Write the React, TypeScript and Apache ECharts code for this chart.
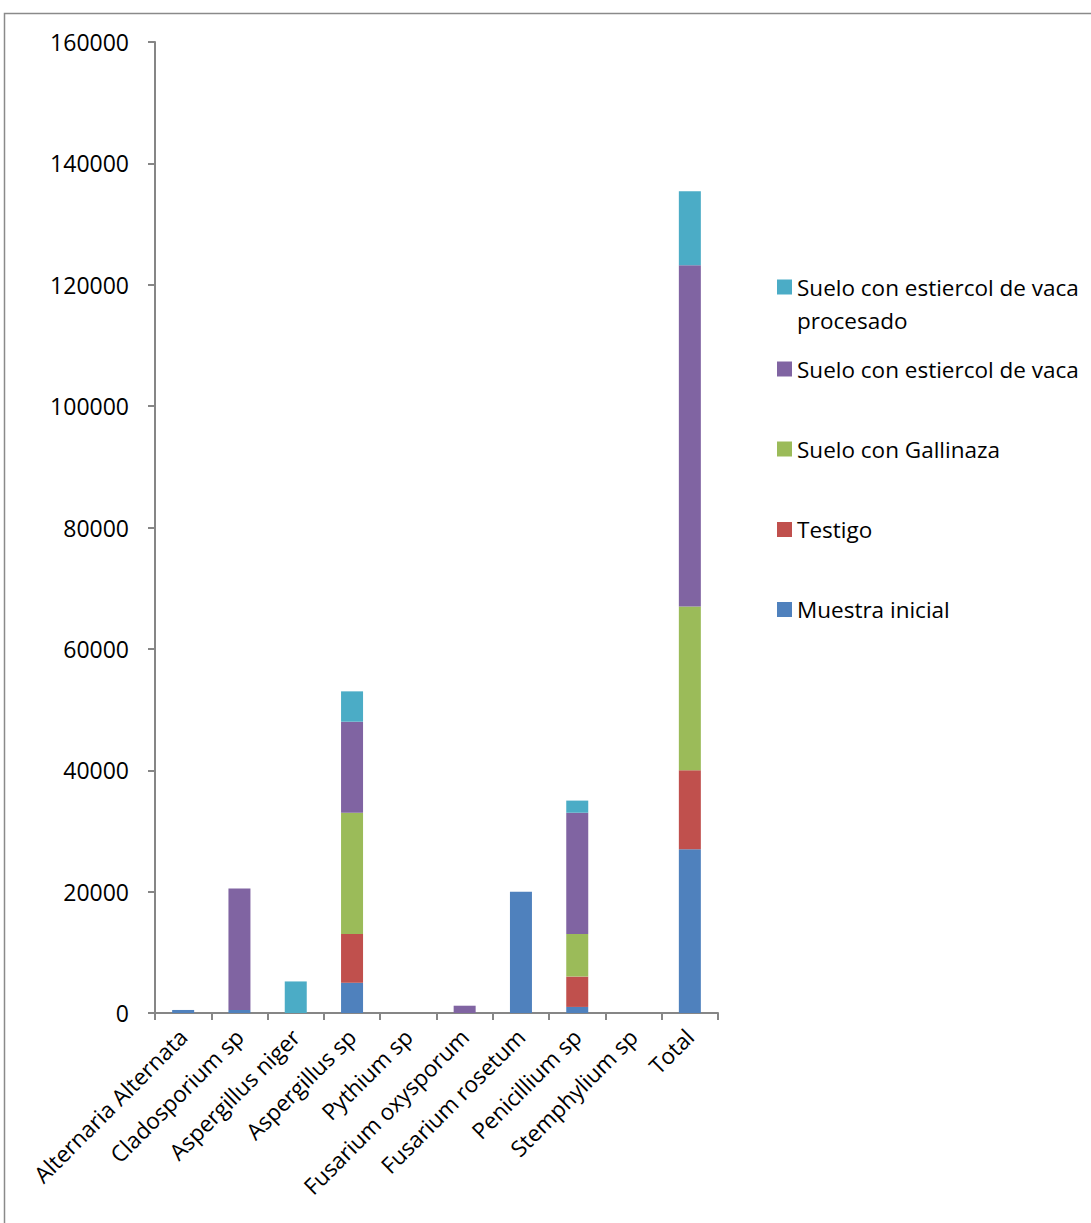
import React, { useEffect, useRef } from "react";
import * as echarts from "echarts";

// Categories along the x axis
const categories = [
  "Alternaria Alternata",
  "Cladosporium sp",
  "Aspergillus niger",
  "Aspergillus sp",
  "Pythium sp",
  "Fusarium oxysporum",
  "Fusarium rosetum",
  "Penicillium sp",
  "Stemphylium sp",
  "Total",
];

// Stacked series values (bottom to top)
const muestraInicial = [500, 500, 0, 5000, 0, 0, 20000, 1000, 0, 27000];
const testigo = [0, 0, 0, 8000, 0, 0, 0, 5000, 0, 13000];
const gallinaza = [0, 0, 0, 20000, 0, 0, 0, 7000, 0, 27000];
const estiercolVaca = [0, 20000, 0, 15000, 0, 1200, 0, 20000, 0, 56200];
const estiercolProcesado = [0, 0, 5200, 5000, 0, 0, 0, 2000, 0, 12200];

// Y axis range
const yMin = 0;
const yMax = 160000;
const yStep = 20000;

const FONT = "'Open Sans', 'Noto Sans', sans-serif";

const seriesDefs = [
  { name: "Muestra inicial", data: muestraInicial, color: "#4F81BD" },
  { name: "Testigo", data: testigo, color: "#C0504D" },
  { name: "Suelo con Gallinaza", data: gallinaza, color: "#9BBB59" },
  { name: "Suelo con estiercol de vaca", data: estiercolVaca, color: "#8064A2" },
  { name: "Suelo con estiercol de vaca procesado", data: estiercolProcesado, color: "#4BACC6" },
];

// Legend rows, top to bottom, with the vertical centre of each icon
const legendRows = [
  { name: "Suelo con estiercol de vaca procesado", center: 287, twoLines: true },
  { name: "Suelo con estiercol de vaca", center: 369, twoLines: false },
  { name: "Suelo con Gallinaza", center: 449, twoLines: false },
  { name: "Testigo", center: 529.5, twoLines: false },
  { name: "Muestra inicial", center: 609.5, twoLines: false },
];

export default function App() {
  const ref = useRef<HTMLDivElement>(null);

  useEffect(() => {
    document.body.style.margin = "0";
    if (!ref.current) return;
    const chart = echarts.init(ref.current, undefined, { renderer: "svg" });

    const lineH = 33;
    const singleH = 30;
    const legendFont = 22.5;

    const legends = legendRows.map((row) => {
      const base: any = {
        show: true,
        selectedMode: false,
        orient: "vertical",
        left: 777,
        padding: 0,
        itemWidth: 15,
        itemHeight: 15,
        icon: "rect",
        data: [row.name],
      };
      if (row.twoLines) {
        // an empty first line keeps the icon level with the first text line
        return {
          ...base,
          top: row.center - (lineH * 3) / 2,
          formatter: () => "\nSuelo con estiercol de vaca\nprocesado",
          textStyle: {
            fontFamily: FONT,
            fontSize: legendFont,
            color: "#000",
            lineHeight: lineH,
          },
        };
      }
      return {
        ...base,
        top: row.center - singleH / 2,
        textStyle: {
          fontFamily: FONT,
          fontSize: legendFont,
          color: "#000",
          lineHeight: singleH,
        },
      };
    });

    chart.setOption({
      animation: false,
      backgroundColor: "#ffffff",
      textStyle: { fontFamily: FONT },
      graphic: [
        {
          type: "rect",
          shape: { x: 4.5, y: 13.5, width: 1300, height: 1400 },
          style: { fill: "none", stroke: "#8a8a8a", lineWidth: 1.5 },
          silent: true,
        },
      ],
      grid: {
        left: 155,
        right: 373,
        top: 42,
        bottom: 210,
        containLabel: false,
      },
      legend: legends,
      xAxis: {
        type: "category",
        data: categories,
        boundaryGap: true,
        axisLine: { show: true, lineStyle: { color: "#868686", width: 2 } },
        axisTick: { show: true, length: 7, inside: false, lineStyle: { color: "#868686", width: 2 } },
        axisLabel: {
          interval: 0,
          rotate: 45,
          margin: 20,
          fontSize: 22.5,
          fontFamily: FONT,
          color: "#000",
        },
        splitLine: { show: false },
      },
      yAxis: {
        type: "value",
        min: yMin,
        max: yMax,
        interval: yStep,
        axisLine: { show: true, lineStyle: { color: "#868686", width: 2 } },
        axisTick: { show: true, length: 7, inside: false, lineStyle: { color: "#868686", width: 2 } },
        axisLabel: {
          margin: 26,
          fontSize: 23,
          fontFamily: FONT,
          color: "#000",
          formatter: (v: number) => String(v),
        },
        splitLine: { show: false },
      },
      series: seriesDefs.map((s) => ({
        name: s.name,
        type: "bar",
        stack: "total",
        barWidth: 22,
        data: s.data,
        itemStyle: { color: s.color },
        emphasis: { disabled: true },
      })),
    });

    return () => {
      chart.dispose();
    };
  }, []);

  return <div ref={ref} style={{ width: 1091, height: 1223 }} />;
}
